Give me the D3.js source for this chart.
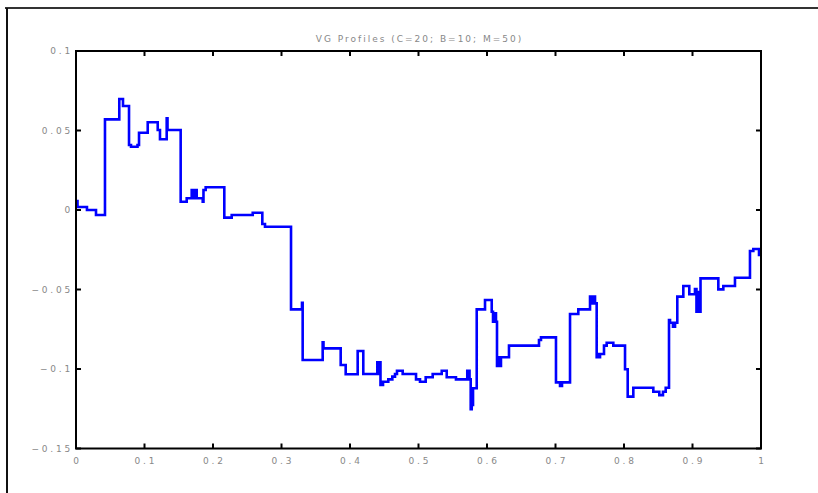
<!DOCTYPE html>
<html><head><meta charset="utf-8">
<script src="https://cdn.jsdelivr.net/npm/d3@7"></script>
<style>html,body{margin:0;padding:0;background:#fff;}svg{display:block;}</style>
</head><body>
<script>
const titleText = "VG Profiles (C=20; B=10; M=50)";
const xTicks = [0,0.1,0.2,0.3,0.4,0.5,0.6,0.7,0.8,0.9,1];
const xTickLabels = ["0","0.1","0.2","0.3","0.4","0.5","0.6","0.7","0.8","0.9","1"];
const yTicks = [0.1,0.05,0,-0.05,-0.1,-0.15];
const yTickLabels = ["0.1","0.05","0","\u22120.05","\u22120.1","\u22120.15"];
// step profile: position t and value v (value holds until next t)
const profT = [0,0.0022,0.016,0.0292,0.0423,0.0632,0.0686,0.0774,0.0803,0.0898,0.0920,0.1047,0.1193,0.1226,0.1324,0.1336,0.1528,0.1616,0.1689,0.1708,0.1730,0.1762,0.1850,0.1861,0.1893,0.2165,0.2273,0.2580,0.2720,0.2759,0.3139,0.3299,0.3309,0.3601,0.3613,0.3864,0.3937,0.4112,0.4194,0.4399,0.4416,0.4431,0.4445,0.4482,0.4559,0.4618,0.4657,0.4686,0.4769,0.4964,0.5022,0.5105,0.5207,0.5339,0.5412,0.5547,0.5712,0.5745,0.5762,0.5777,0.5788,0.5796,0.5850,0.5971,0.6069,0.6088,0.6109,0.6131,0.6146,0.6171,0.6185,0.6204,0.6321,0.6759,0.6788,0.7007,0.7066,0.7095,0.7212,0.7333,0.7504,0.7533,0.7555,0.7577,0.7601,0.7620,0.7635,0.7650,0.7708,0.7747,0.7844,0.8015,0.8054,0.8136,0.8428,0.8515,0.8569,0.8609,0.8657,0.8672,0.8715,0.8745,0.8778,0.8866,0.8953,0.9036,0.9058,0.9080,0.9102,0.9117,0.9377,0.9450,0.9620,0.9839,0.9888,0.9971,1];
const profV = [0.0057,0.0019,0,-0.0031,0.0570,0.0698,0.0654,0.0409,0.0398,0.0409,0.0486,0.0552,0.0503,0.0445,0.0577,0.0503,0.0052,0.0074,0.0126,0.0074,0.0126,0.0074,0.0052,0.0126,0.0143,-0.0048,-0.0031,-0.0017,-0.0088,-0.0105,-0.0625,-0.0583,-0.0943,-0.0832,-0.0870,-0.0975,-0.1033,-0.0887,-0.1031,-0.0958,-0.1031,-0.0958,-0.1101,-0.1080,-0.1065,-0.1048,-0.1031,-0.1011,-0.1031,-0.1065,-0.1080,-0.1052,-0.1031,-0.1011,-0.1052,-0.1065,-0.1011,-0.1065,-0.1253,-0.1145,-0.1226,-0.1121,-0.0625,-0.0566,-0.0640,-0.0703,-0.0650,-0.0703,-0.0981,-0.0926,-0.0981,-0.0926,-0.0853,-0.0818,-0.0801,-0.1084,-0.1107,-0.1084,-0.0654,-0.0625,-0.0545,-0.0587,-0.0545,-0.0587,-0.0926,-0.0906,-0.0926,-0.0906,-0.0853,-0.0835,-0.0853,-0.1002,-0.1174,-0.1118,-0.1143,-0.1164,-0.1143,-0.1118,-0.0692,-0.0709,-0.0734,-0.0709,-0.0545,-0.0478,-0.0530,-0.0497,-0.0640,-0.0516,-0.0640,-0.0430,-0.0499,-0.0478,-0.0426,-0.0258,-0.0245,-0.0283,-0.0283];

const W = 818, H = 493;
const L = 76, R = 761, T = 51, B = 448.5;
const FONT = "DejaVu Sans, Verdana, sans-serif";
const svg = d3.select("body").append("svg").attr("width", W).attr("height", H);

// outer frame (top and left)
svg.append("line").attr("x1",5).attr("x2",W).attr("y1",8).attr("y2",8).attr("stroke","#333").attr("stroke-width",2);
svg.append("line").attr("x1",7).attr("x2",7).attr("y1",8).attr("y2",H).attr("stroke","#111").attr("stroke-width",2);

const x = d3.scaleLinear().domain([0,1]).range([L,R]);
const y = d3.scaleLinear().domain([-0.15,0.1]).range([B,T]);

const data = profT.map((t,i)=>({t, v: profV[i]}));
const line = d3.line().x(d=>x(d.t)).y(d=>y(d.v)).curve(d3.curveStepAfter);
svg.append("path").datum(data).attr("d", line).attr("fill","none")
  .attr("stroke","#0000ff").attr("stroke-width",2.6).attr("stroke-linejoin","miter");

// box
svg.append("rect").attr("x",L).attr("y",T).attr("width",R-L).attr("height",B-T)
  .attr("fill","none").attr("stroke","#000").attr("stroke-width",2);

const tl = 5;
const g = svg.append("g");
xTicks.forEach((t,i)=>{
  g.append("line").attr("x1",x(t)).attr("x2",x(t)).attr("y1",B).attr("y2",B-tl).attr("stroke","#000").attr("stroke-width",2);
  g.append("line").attr("x1",x(t)).attr("x2",x(t)).attr("y1",T).attr("y2",T+tl).attr("stroke","#000").attr("stroke-width",2);
  g.append("text").attr("x",x(t)+1.4).attr("y",463.5).attr("text-anchor","middle")
    .attr("font-family",FONT).attr("font-size",9).attr("letter-spacing",2.8).attr("fill","#888").text(xTickLabels[i]);
});
yTicks.forEach((v,i)=>{
  g.append("line").attr("x1",L).attr("x2",L+tl).attr("y1",y(v)).attr("y2",y(v)).attr("stroke","#000").attr("stroke-width",2);
  g.append("line").attr("x1",R).attr("x2",R-tl).attr("y1",y(v)).attr("y2",y(v)).attr("stroke","#000").attr("stroke-width",2);
  g.append("text").attr("x",73).attr("y",y(v)+3.3).attr("text-anchor","end")
    .attr("font-family",FONT).attr("font-size",9).attr("letter-spacing",2.8).attr("fill","#888").text(yTickLabels[i]);
});

svg.append("text").attr("x",(L+R)/2+1).attr("y",42).attr("text-anchor","middle")
  .attr("font-family",FONT).attr("font-size",9).attr("letter-spacing",2).attr("fill","#888").text(titleText);
</script>
</body></html>
